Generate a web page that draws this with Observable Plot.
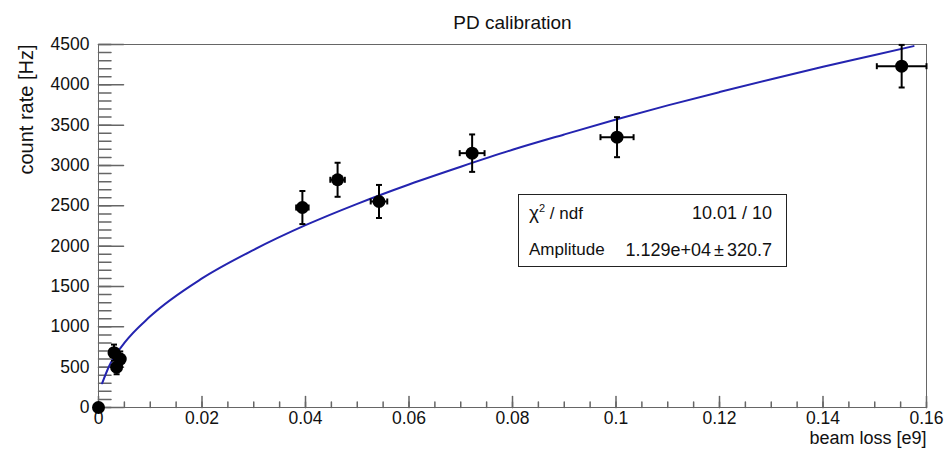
<!DOCTYPE html>
<html><head><meta charset="utf-8">
<script src="https://cdn.jsdelivr.net/npm/d3@7"></script>
<script src="https://cdn.jsdelivr.net/npm/@observablehq/plot@0.6"></script>
<style>
body{margin:0;background:#fff;font-family:"Liberation Sans",Arial,sans-serif;}
#wrap{position:relative;width:947px;height:455px;}
#stats{position:absolute;left:518px;top:194px;width:269px;height:73px;border:1px solid #222;background:#fff;box-sizing:border-box;font-size:18px;color:#111;}
#stats .row{position:absolute;left:10px;right:14px;display:flex;justify-content:space-between;line-height:18px;}
#stats .lbl{font-size:17px;}
#stats sup{font-size:11px;vertical-align:7px;line-height:0;}
#stats .chi{font-size:19px;}
#stats .pm{margin:0 3px;}
</style></head><body><div id="wrap"></div>
<script>
// data points
const beamLoss   = [0, 0.0030, 0.0042, 0.0035, 0.0394, 0.0462, 0.0542, 0.0722, 0.1002, 0.1552];
const beamLossErr= [0, 0.0001, 0.00013, 0.0001, 0.0012, 0.0014, 0.0016, 0.0024, 0.0032, 0.0048];
const countRate  = [0, 680, 600, 500, 2479, 2823, 2554, 3153, 3351, 4231];
const countErr   = [0, 100, 95, 88, 205, 211, 205, 232, 248, 264];
// fit curve
const fitX = [0.0007, 0.002, 0.005, 0.01, 0.02, 0.03, 0.04, 0.05, 0.06, 0.07, 0.08, 0.09, 0.10, 0.11, 0.12, 0.13, 0.14, 0.15, 0.1575];
const fitY = [300, 505, 800, 1130, 1600, 1955, 2260, 2525, 2765, 2985, 3195, 3385, 3570, 3745, 3910, 4070, 4225, 4370, 4480];
// ticks
const xTicks = [0, 0.02, 0.04, 0.06, 0.08, 0.10, 0.12, 0.14, 0.16];
const xTickLabels = ["0", "0.02", "0.04", "0.06", "0.08", "0.1", "0.12", "0.14", "0.16"];
const yTicks = [0, 500, 1000, 1500, 2000, 2500, 3000, 3500, 4000, 4500];
const yTickLabels = ["0", "500", "1000", "1500", "2000", "2500", "3000", "3500", "4000", "4500"];
const titleText = "PD calibration";
const xLabel = "beam loss [e9]";
const yLabel = "count rate [Hz]";
const statsRows = [
  ['<span class="chi">χ</span><sup>2</sup> / ndf', "10.01 / 10"],
  ["Amplitude", '1.129e+04<span class="pm">±</span>320.7']
];

const points = beamLoss.map((x, i) => ({x, y: countRate[i], xe: beamLossErr[i], ye: countErr[i]}));
const errPts = points.filter(d => d.ye > 0);
const fit = fitX.map((x, i) => ({x, y: fitY[i]}));
const xMinor = d3.range(0, 0.1601, 0.005);
const yMinor = d3.range(0, 4501, 100);

const tickShape = {draw(ctx, l) { ctx.moveTo(0, 0); ctx.lineTo(0, -l); }};
const hcap = {draw(ctx, s) { const r = Math.sqrt(s / Math.PI); ctx.moveTo(-r, 0); ctx.lineTo(r, 0); }};
const vcap = {draw(ctx, s) { const r = Math.sqrt(s / Math.PI); ctx.moveTo(0, -r); ctx.lineTo(0, r); }};
const axisColor = "#666";

const chart = Plot.plot({
  width: 947, height: 455,
  marginLeft: 98, marginRight: 21, marginTop: 44, marginBottom: 48,
  style: {fontFamily: '"Liberation Sans", Arial, sans-serif', fontSize: "16px", color: "#111", background: "#fff"},
  x: {domain: [0, 0.16]},
  y: {domain: [0, 4500]},
  marks: [
    Plot.frame({stroke: axisColor}),
    Plot.vectorX(xMinor, {x: d => d, frameAnchor: "bottom", length: 5.5, anchor: "start", shape: tickShape, stroke: axisColor}),
    Plot.vectorX(xTicks, {x: d => d, frameAnchor: "bottom", length: 11, anchor: "start", shape: tickShape, stroke: axisColor}),
    Plot.vectorY(yMinor, {y: d => d, frameAnchor: "left", rotate: 90, length: 12.5, anchor: "start", shape: tickShape, stroke: axisColor}),
    Plot.vectorY(yTicks, {y: d => d, frameAnchor: "left", rotate: 90, length: 25, anchor: "start", shape: tickShape, stroke: axisColor}),
    Plot.axisX({ticks: xTicks, tickSize: 0, tickPadding: 4, tickFormat: (d, i) => xTickLabels[i], label: null, fontSize: 17.5}),
    Plot.axisY({ticks: yTicks, tickSize: 0, tickPadding: 9, tickFormat: (d, i) => yTickLabels[i], label: null, fontSize: 17.5}),
    Plot.text([titleText], {frameAnchor: "top", dy: -29, fontSize: 19}),
    Plot.text([xLabel], {frameAnchor: "bottom-right", textAnchor: "end", dy: 36, fontSize: 18}),
    Plot.text([yLabel], {frameAnchor: "top-left", textAnchor: "end", rotate: -90, dx: -80, fontSize: 20}),
    Plot.line(fit, {x: "x", y: "y", stroke: "#2424b0", strokeWidth: 2, curve: "monotone-x"}),
    Plot.ruleX(errPts, {x: "x", y1: d => d.y - d.ye, y2: d => d.y + d.ye, stroke: "black", strokeWidth: 2}),
    Plot.ruleY(errPts, {y: "y", x1: d => d.x - d.xe, x2: d => d.x + d.xe, stroke: "black", strokeWidth: 2}),
    Plot.dot(errPts, {x: "x", y: d => d.y + d.ye, symbol: hcap, r: 3, stroke: "black", strokeWidth: 2}),
    Plot.dot(errPts, {x: "x", y: d => d.y - d.ye, symbol: hcap, r: 3, stroke: "black", strokeWidth: 2}),
    Plot.dot(errPts, {x: d => d.x + d.xe, y: "y", symbol: vcap, r: 3, stroke: "black", strokeWidth: 2}),
    Plot.dot(errPts, {x: d => d.x - d.xe, y: "y", symbol: vcap, r: 3, stroke: "black", strokeWidth: 2}),
    Plot.dot(points, {x: "x", y: "y", r: 6.5, fill: "black", stroke: null})
  ]
});
const wrap = document.getElementById("wrap");
wrap.appendChild(chart);
const box = document.createElement("div");
box.id = "stats";
box.innerHTML = statsRows.map((r, i) => `<div class="row" style="top:${i === 0 ? 9 : 46}px"><span class="lbl">${r[0]}</span><span>${r[1]}</span></div>`).join("");
wrap.appendChild(box);
</script>
</body></html>
